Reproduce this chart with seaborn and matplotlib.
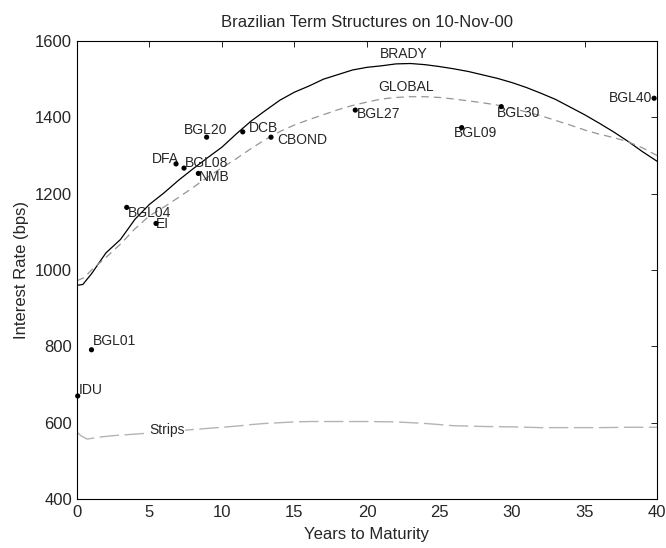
import matplotlib
matplotlib.use("Agg")
import matplotlib.pyplot as plt
import seaborn as sns
import pandas as pd

# bond quotes (years to maturity, spread in bps)
bonds = ["IDU", "BGL01", "BGL04", "EI", "DFA", "BGL08", "NMB", "BGL20", "DCB",
         "CBOND", "BGL27", "BGL09", "BGL30", "BGL40"]
maturity = [0.05, 1.0, 3.43, 5.45, 6.83, 7.38, 8.37, 8.94, 11.43,
            13.38, 19.19, 26.53, 29.26, 39.8]
rate = [670, 791, 1164, 1122, 1278, 1267, 1253, 1348, 1362,
        1348, 1419, 1373, 1428, 1450]

# fitted term structures
brady_years = [0, 0.4, 1, 2, 3, 4, 5, 6, 7, 8, 9, 10, 11, 12, 13, 14, 15, 16, 17, 18, 19, 20,
               21, 22, 23, 24, 25, 26, 27, 28, 29, 30, 31, 32, 33, 34, 35, 36, 37, 38, 39, 40]
brady_rate = [960, 962, 990, 1045, 1080, 1133, 1172, 1202, 1235, 1265, 1294, 1322, 1357, 1390,
              1418, 1445, 1466, 1482, 1500, 1512, 1524, 1531, 1535, 1540, 1541, 1538, 1533, 1527,
              1520, 1511, 1502, 1491, 1478, 1463, 1447, 1427, 1407, 1385, 1362, 1337, 1310, 1285]

global_years = [0, 0.5, 1, 2, 3, 4, 5, 6, 7, 8, 9, 10, 11, 12, 13, 14, 15, 16, 17, 18, 19, 20,
                21, 22, 23, 24, 25, 26, 27, 28, 29, 30, 31, 32, 33, 34, 35, 36, 37, 38, 39, 40]
global_rate = [972, 980, 1000, 1033, 1068, 1108, 1142, 1165, 1190, 1216, 1243, 1268, 1292, 1318,
               1342, 1363, 1380, 1394, 1407, 1420, 1431, 1440, 1448, 1452, 1454, 1454, 1452, 1448,
               1443, 1438, 1432, 1424, 1414, 1404, 1392, 1380, 1367, 1356, 1347, 1336, 1320, 1300]

strips_years = [0, 0.3, 0.7, 1.5, 2.5, 4, 5, 6, 7, 8, 9, 10, 11, 12, 13, 14, 15, 16, 18, 20,
                22, 23, 24, 25, 26, 27, 28, 30, 32, 34, 36, 38, 40]
strips_rate = [575, 565, 557, 562, 566, 570, 573, 576, 579, 582, 585, 588, 591, 595, 598, 600,
               602, 603, 603, 603, 602, 600, 598, 595, 592, 591, 590, 589, 587, 587, 587, 588, 588]

# label offsets in points (dx, dy, ha)
offsets = {"IDU": (1, 4, "left"), "BGL01": (1, 6, "left"), "BGL04": (0.5, -4, "left"),
           "EI": (0, -0.7, "left"), "DFA": (-17.5, 3.6, "left"), "BGL08": (0.7, 3.4, "left"),
           "NMB": (0.7, -2.4, "left"), "BGL20": (-16.5, 5, "left"), "DCB": (4.7, 3.1, "left"),
           "CBOND": (4.5, -1.9, "left"), "BGL27": (1, -3.1, "left"), "BGL09": (-5.3, -4, "left"),
           "BGL30": (-2.9, -4.3, "left"), "BGL40": (-1, 0, "right")}

sns.set_style("white")
plt.rcParams["font.family"] = ["Liberation Sans", "DejaVu Sans"]
plt.rcParams["xtick.direction"] = "in"
plt.rcParams["ytick.direction"] = "in"

fig = plt.figure(figsize=(6.66, 5.48), dpi=100)
ax = fig.add_axes([0.1156, 0.0894, 0.8709, 0.8358])

sns.lineplot(x=brady_years, y=brady_rate, color="black", linewidth=0.9, ax=ax)
sns.lineplot(x=global_years, y=global_rate, color="#959595", linewidth=0.9,
             linestyle=(0, (6, 4)), ax=ax)
sns.lineplot(x=strips_years, y=strips_rate, color="#b4b4b4", linewidth=1.0,
             linestyle=(0, (14, 4)), ax=ax)

df = pd.DataFrame({"bond": bonds, "maturity": maturity, "rate": rate})
sns.scatterplot(data=df, x="maturity", y="rate", color="black", s=14,
                edgecolor="none", ax=ax, zorder=5, clip_on=False)

for name, x, y in zip(bonds, maturity, rate):
    dx, dy, ha = offsets[name]
    ax.annotate(name, (x, y), xytext=(dx, dy), textcoords="offset points",
                ha=ha, va="center", fontsize=10)

ax.text(22.5, 1566, "BRADY", ha="center", va="center", fontsize=10)
ax.text(22.7, 1480, "GLOBAL", ha="center", va="center", fontsize=10)
ax.text(5.0, 580, "Strips", ha="left", va="center", fontsize=10,
        bbox=dict(facecolor="white", edgecolor="none", pad=0))

ax.set_xlim(0, 40)
ax.set_ylim(400, 1600)
ax.set_xticks(range(0, 41, 5))
ax.set_yticks(range(400, 1601, 200))
ax.tick_params(axis="both", which="both", top=True, right=True, length=4,
               width=0.6, labelsize=12, color="black")
ax.tick_params(axis="x", pad=4)
for sp in ax.spines.values():
    sp.set_visible(True)
    sp.set_color("black")
    sp.set_linewidth(0.8)

ax.set_xlabel("Years to Maturity", fontsize=12, labelpad=5)
ax.set_ylabel("Interest Rate (bps)", fontsize=12, labelpad=4)
ax.set_title("Brazilian Term Structures on 10-Nov-00", fontsize=12, pad=10)

fig.savefig("out.png", dpi=100)
